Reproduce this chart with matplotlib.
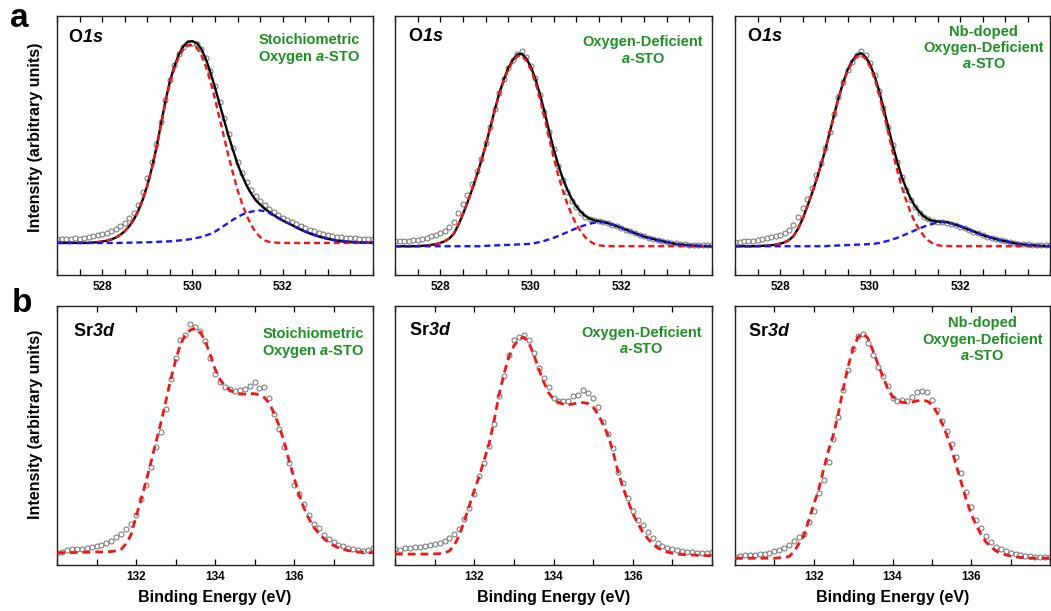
import numpy as np
import matplotlib
matplotlib.use("Agg")
import matplotlib.pyplot as plt
from matplotlib.ticker import MultipleLocator, FixedLocator

plt.rcParams['font.family'] = ['Liberation Sans', 'DejaVu Sans']
plt.rcParams['font.weight'] = 'bold'
plt.rcParams['axes.labelweight'] = 'bold'
plt.rcParams['mathtext.fontset'] = 'custom'
plt.rcParams['mathtext.rm'] = 'Liberation Sans:bold'
plt.rcParams['mathtext.bf'] = 'Liberation Sans:bold'
plt.rcParams['mathtext.it'] = 'Liberation Sans:italic:bold'
try:
    plt.rcParams['mathtext.bfit'] = 'Liberation Sans:italic:bold'
except KeyError:
    pass

# ---- data (normalised intensity) ----
# O 1s, measured every 0.1 eV from 527.0 to 534.0
o1s_energy = np.round(np.arange(527.0, 534.05, 0.1), 1)

o1s_data_stoich = [
    0.018, 0.02, 0.019, 0.02, 0.022, 0.021, 0.024, 0.028, 0.033, 0.037,
    0.045, 0.05, 0.058, 0.068, 0.082, 0.1, 0.122, 0.148, 0.19, 0.25,
    0.32, 0.4, 0.49, 0.6, 0.71, 0.81, 0.88, 0.935, 0.97, 0.985,
    0.99, 0.985, 0.96, 0.915, 0.85, 0.78, 0.7, 0.62, 0.54, 0.47,
    0.4, 0.345, 0.3, 0.262, 0.232, 0.208, 0.188, 0.17, 0.153, 0.138,
    0.126, 0.114, 0.103, 0.093, 0.084, 0.075, 0.066, 0.058, 0.051, 0.045,
    0.039, 0.034, 0.03, 0.027, 0.025, 0.023, 0.022, 0.021, 0.02, 0.02,
    0.019]
o1s_lat_stoich = [
    0, 0, 0, 0, 0, 0, 0, 0, 0.002, 0.004,
    0.007, 0.011, 0.017, 0.026, 0.04, 0.057, 0.082, 0.113, 0.158, 0.212,
    0.282, 0.366, 0.465, 0.579, 0.693, 0.792, 0.865, 0.923, 0.961, 0.981,
    0.98, 0.965, 0.93, 0.873, 0.8, 0.714, 0.62, 0.525, 0.43, 0.345,
    0.262, 0.195, 0.136, 0.09, 0.053, 0.029, 0.013, 0.005, 0.002, 0.001,
    0, 0, 0, 0, 0, 0, 0, 0, 0, 0,
    0, 0, 0, 0, 0, 0, 0, 0, 0, 0,
    0]
o1s_vac_stoich = [
    0, 0, 0, 0, 0, 0, 0, 0, 0, 0,
    0, 0, 0, 0, 0, 0.001, 0.001, 0.002, 0.002, 0.003,
    0.003, 0.004, 0.005, 0.006, 0.007, 0.008, 0.01, 0.012, 0.014, 0.017,
    0.02, 0.025, 0.03, 0.037, 0.045, 0.056, 0.07, 0.085, 0.1, 0.115,
    0.128, 0.14, 0.149, 0.155, 0.159, 0.161, 0.157, 0.148, 0.136, 0.123,
    0.111, 0.1, 0.089, 0.077, 0.066, 0.056, 0.047, 0.039, 0.032, 0.026,
    0.02, 0.015, 0.011, 0.008, 0.006, 0.004, 0.003, 0.002, 0.001, 0.001,
    0]

o1s_data_def = [
    0.026, 0.025, 0.027, 0.027, 0.03, 0.034, 0.038, 0.044, 0.051, 0.059,
    0.068, 0.08, 0.097, 0.125, 0.17, 0.215, 0.265, 0.32, 0.385, 0.45,
    0.53, 0.615, 0.705, 0.79, 0.86, 0.915, 0.96, 0.99, 1.005, 0.975,
    0.93, 0.865, 0.78, 0.69, 0.59, 0.5, 0.415, 0.34, 0.28, 0.235,
    0.2, 0.172, 0.152, 0.14, 0.133, 0.128, 0.124, 0.118, 0.11, 0.102,
    0.094, 0.085, 0.077, 0.068, 0.06, 0.052, 0.045, 0.038, 0.032, 0.027,
    0.022, 0.018, 0.015, 0.012, 0.01, 0.008, 0.007, 0.006, 0.005, 0.005,
    0.004]
o1s_lat_def = [
    0, 0, 0, 0, 0, 0.001, 0.002, 0.004, 0.007, 0.011,
    0.017, 0.026, 0.04, 0.065, 0.11, 0.165, 0.225, 0.29, 0.36, 0.435,
    0.515, 0.605, 0.695, 0.78, 0.85, 0.91, 0.95, 0.978, 0.98, 0.955,
    0.91, 0.845, 0.76, 0.665, 0.56, 0.46, 0.37, 0.29, 0.222, 0.163,
    0.115, 0.077, 0.047, 0.026, 0.012, 0.005, 0.002, 0.001, 0, 0,
    0, 0, 0, 0, 0, 0, 0, 0, 0, 0,
    0, 0, 0, 0, 0, 0, 0, 0, 0, 0,
    0]
o1s_vac_def = [
    0, 0, 0, 0, 0, 0, 0, 0, 0, 0,
    0, 0, 0, 0, 0, 0, 0, 0, 0, 0,
    0.002, 0.003, 0.004, 0.005, 0.006, 0.007, 0.008, 0.009, 0.01, 0.011,
    0.013, 0.017, 0.022, 0.028, 0.035, 0.043, 0.052, 0.062, 0.072, 0.082,
    0.092, 0.101, 0.109, 0.116, 0.121, 0.124, 0.123, 0.118, 0.111, 0.103,
    0.094, 0.085, 0.076, 0.067, 0.058, 0.05, 0.043, 0.037, 0.031, 0.026,
    0.021, 0.016, 0.012, 0.009, 0.007, 0.005, 0.003, 0.002, 0.001, 0.001,
    0]

o1s_data_nb = [
    0.022, 0.024, 0.025, 0.026, 0.028, 0.031, 0.035, 0.04, 0.046, 0.053,
    0.06, 0.07, 0.085, 0.11, 0.15, 0.195, 0.245, 0.3, 0.365, 0.43,
    0.505, 0.59, 0.68, 0.77, 0.845, 0.905, 0.95, 0.985, 1.005, 0.985,
    0.945, 0.88, 0.8, 0.71, 0.615, 0.52, 0.435, 0.355, 0.29, 0.24,
    0.2, 0.17, 0.15, 0.138, 0.132, 0.127, 0.125, 0.12, 0.116, 0.108,
    0.1, 0.092, 0.084, 0.075, 0.067, 0.058, 0.05, 0.043, 0.037, 0.031,
    0.026, 0.021, 0.017, 0.014, 0.011, 0.009, 0.007, 0.006, 0.005, 0.004,
    0.004]
o1s_lat_nb = [
    0, 0, 0, 0, 0, 0.001, 0.002, 0.003, 0.005, 0.008,
    0.013, 0.02, 0.032, 0.052, 0.09, 0.14, 0.2, 0.265, 0.335, 0.41,
    0.49, 0.58, 0.67, 0.76, 0.835, 0.9, 0.945, 0.975, 0.985, 0.965,
    0.925, 0.865, 0.785, 0.69, 0.59, 0.49, 0.395, 0.31, 0.238, 0.175,
    0.124, 0.084, 0.052, 0.029, 0.014, 0.006, 0.002, 0.001, 0, 0,
    0, 0, 0, 0, 0, 0, 0, 0, 0, 0,
    0, 0, 0, 0, 0, 0, 0, 0, 0, 0,
    0]
o1s_vac_nb = [
    0, 0, 0, 0, 0, 0, 0, 0, 0, 0,
    0, 0, 0, 0, 0, 0, 0, 0, 0, 0,
    0, 0.002, 0.003, 0.004, 0.005, 0.006, 0.007, 0.008, 0.009, 0.01,
    0.011, 0.013, 0.017, 0.022, 0.028, 0.035, 0.043, 0.052, 0.062, 0.072,
    0.082, 0.092, 0.101, 0.109, 0.116, 0.121, 0.124, 0.123, 0.118, 0.111,
    0.103, 0.094, 0.085, 0.076, 0.067, 0.058, 0.05, 0.043, 0.037, 0.031,
    0.026, 0.021, 0.016, 0.012, 0.009, 0.007, 0.005, 0.003, 0.002, 0.001,
    0.001]

# Sr 3d, measured every 0.125 eV from 130 to 138
sr3d_energy = np.arange(130.0, 138.01, 0.125)

sr3d_data_stoich = [
    0.0, 0.004, 0.012, 0.015, 0.015, 0.018, 0.022, 0.026,
    0.028, 0.033, 0.042, 0.054, 0.068, 0.082, 0.105, 0.13,
    0.168, 0.24, 0.3, 0.38, 0.47, 0.54, 0.64, 0.775,
    0.87, 0.95, 0.97, 1.018, 1.005, 0.99, 0.945, 0.87,
    0.795, 0.76, 0.74, 0.728, 0.723, 0.724, 0.73, 0.745,
    0.762, 0.735, 0.74, 0.69, 0.62, 0.55, 0.47, 0.4,
    0.3, 0.26, 0.215, 0.17, 0.13, 0.108, 0.078, 0.06,
    0.046, 0.036, 0.03, 0.022, 0.016, 0.013, 0.008, 0.012,
    0.019]
sr3d_fit_stoich = [
    0.0, 0.0, 0.0, 0.0, 0.001, 0.001, 0.002, 0.002,
    0.003, 0.003, 0.004, 0.005, 0.008, 0.015, 0.04, 0.08,
    0.16, 0.235, 0.315, 0.4, 0.49, 0.575, 0.67, 0.77,
    0.855, 0.93, 0.97, 0.993, 1.0, 0.985, 0.945, 0.885,
    0.82, 0.772, 0.743, 0.725, 0.713, 0.707, 0.707, 0.709,
    0.709, 0.703, 0.692, 0.665, 0.62, 0.565, 0.495, 0.41,
    0.335, 0.26, 0.2, 0.152, 0.113, 0.087, 0.064, 0.046,
    0.032, 0.022, 0.015, 0.009, 0.005, 0.003, 0.001, 0.0,
    0.0]

sr3d_data_def = [
    0.026, 0.022, 0.029, 0.031, 0.034, 0.037, 0.041, 0.044,
    0.048, 0.054, 0.061, 0.075, 0.095, 0.12, 0.165, 0.215,
    0.28, 0.36, 0.42, 0.5, 0.6, 0.73, 0.82, 0.92,
    0.985, 1.0, 1.008, 0.985, 0.925, 0.86, 0.81, 0.77,
    0.72, 0.708, 0.706, 0.706, 0.73, 0.735, 0.755, 0.742,
    0.72, 0.68, 0.61, 0.555, 0.49, 0.38, 0.33, 0.26,
    0.2, 0.16, 0.135, 0.105, 0.075, 0.055, 0.042, 0.032,
    0.026, 0.023, 0.019, 0.015, 0.012, 0.009, 0.008, 0.006,
    0.011]
sr3d_fit_def = [
    0.003, 0.003, 0.003, 0.003, 0.003, 0.003, 0.003, 0.003,
    0.004, 0.005, 0.008, 0.018, 0.045, 0.09, 0.155, 0.225,
    0.295, 0.36, 0.435, 0.51, 0.615, 0.735, 0.83, 0.91,
    0.96, 0.99, 1.0, 0.975, 0.92, 0.855, 0.795, 0.745,
    0.715, 0.7, 0.692, 0.69, 0.693, 0.699, 0.699, 0.695,
    0.678, 0.645, 0.6, 0.55, 0.475, 0.385, 0.31, 0.25,
    0.19, 0.145, 0.105, 0.075, 0.05, 0.032, 0.02, 0.012,
    0.007, 0.003, 0.001, 0.0, -0.001, -0.002, -0.003, -0.004,
    -0.005]

sr3d_data_nb = [
    0.007, 0.012, 0.015, 0.013, 0.015, 0.018, 0.021, 0.025,
    0.031, 0.037, 0.047, 0.06, 0.077, 0.095, 0.11, 0.16,
    0.21, 0.29, 0.35, 0.43, 0.53, 0.63, 0.75, 0.84,
    0.93, 0.99, 1.0, 0.96, 0.905, 0.85, 0.81, 0.765,
    0.715, 0.7, 0.703, 0.7, 0.72, 0.738, 0.745, 0.742,
    0.705, 0.66, 0.613, 0.565, 0.51, 0.45, 0.38, 0.295,
    0.23, 0.17, 0.135, 0.097, 0.072, 0.05, 0.04, 0.033,
    0.025, 0.019, 0.016, 0.012, 0.008, 0.007, 0.007, 0.007,
    0.007]
sr3d_fit_nb = [
    0, 0, 0, 0, 0, 0, 0, 0,
    0.0, 0.002, 0.004, 0.008, 0.03, 0.065, 0.1, 0.17,
    0.24, 0.305, 0.395, 0.48, 0.55, 0.645, 0.755, 0.855,
    0.933, 0.985, 1.0, 0.98, 0.926, 0.868, 0.81, 0.758,
    0.72, 0.702, 0.694, 0.692, 0.695, 0.701, 0.703, 0.7,
    0.684, 0.65, 0.605, 0.55, 0.485, 0.41, 0.335, 0.26,
    0.196, 0.148, 0.105, 0.072, 0.05, 0.033, 0.022, 0.015,
    0.01, 0.006, 0.004, 0.002, 0, 0, 0, 0,
    0]

o1s_ticks = [528, 530, 532]
sr3d_ticks = [132, 134, 136]

sample_labels = [
    "Stoichiometric\nOxygen $\\mathbfit{a}$-STO",
    "Oxygen-Deficient\n$\\mathbfit{a}$-STO",
    "Nb-doped\nOxygen-Deficient\n$\\mathbfit{a}$-STO",
]
o1s_sets = [
    (o1s_data_stoich, o1s_lat_stoich, o1s_vac_stoich),
    (o1s_data_def, o1s_lat_def, o1s_vac_def),
    (o1s_data_nb, o1s_lat_nb, o1s_vac_nb),
]
sr3d_sets = [
    (sr3d_data_stoich, sr3d_fit_stoich),
    (sr3d_data_def, sr3d_fit_def),
    (sr3d_data_nb, sr3d_fit_nb),
]

# ---- layout ----
W, H = 1051, 611
fig = plt.figure(figsize=(W / 100, H / 100), dpi=100)

cols = [(57, 373), (395, 712), (735, 1050)]
top_row = (16, 275)
bot_row = (306, 565)
o1s_ylim = [(-0.159, 1.125), (-0.148, 1.185), (-0.148, 1.185)]
sr_ylim = [(-0.055, 1.10), (-0.047, 1.143), (-0.03, 1.123)]
o1s_lab_pos = [(0.797, 0.934), (0.782, 0.925), (0.79, 0.965)]
sr_lab_pos = [(0.81, 0.919), (0.778, 0.922), (0.785, 0.96)]
o1s_tag_pos = [(0.035, 0.95), (0.041, 0.953), (0.038, 0.953)]
sr_tag_pos = [(0.05, 0.933), (0.044, 0.938), (0.041, 0.933)]

green = '#1f8f24'
red = '#f01616'
blue = '#1a1ae6'


def make_axes(col, row):
    x0, x1 = col
    y0, y1 = row
    ax = fig.add_axes([x0 / W, 1 - y1 / H, (x1 - x0) / W, (y1 - y0) / H])
    for s in ax.spines.values():
        s.set_linewidth(1.0)
        s.set_color('#222222')
    ax.tick_params(which='both', direction='in', top=True, bottom=True,
                   left=False, right=False, labelleft=False,
                   length=4, width=0.9, labelsize=8.5, pad=4)
    return ax


for i in range(3):
    # top row: O 1s
    ax = make_axes(cols[i], top_row)
    data, lat, vac = o1s_sets[i]
    total = np.array(lat) + np.array(vac)
    ax.plot(o1s_energy, data, 'o', ms=3.6, mfc='white', mec='#707070', mew=0.7, zorder=2)
    ax.plot(o1s_energy, total, '-', color='black', lw=1.7, zorder=3)
    ax.plot(o1s_energy, lat, color=red, lw=1.7, ls=(0, (2.6, 1.6)), zorder=4)
    ax.plot(o1s_energy, vac, color=blue, lw=1.7, ls=(0, (2.6, 1.6)), zorder=4)
    ax.set_xlim(527, 534)
    ax.set_ylim(*o1s_ylim[i])
    ax.xaxis.set_major_locator(FixedLocator(o1s_ticks))
    ax.xaxis.set_minor_locator(MultipleLocator(0.5))
    ax.text(*o1s_tag_pos[i], "O$\\mathbfit{1s}$", transform=ax.transAxes,
            fontsize=13, ha='left', va='top')
    ax.text(*o1s_lab_pos[i], sample_labels[i], transform=ax.transAxes,
            fontsize=10.5, color=green, ha='center', va='top', linespacing=1.2)
    if i == 0:
        ax.set_ylabel('Intensity (arbitrary units)', fontsize=11.5)
        ax.yaxis.set_label_coords(-0.043, 0.53)

    # bottom row: Sr 3d
    ax = make_axes(cols[i], bot_row)
    data, fit = sr3d_sets[i]
    ax.plot(sr3d_energy, data, 'o', ms=3.6, mfc='white', mec='#707070', mew=0.7, zorder=2)
    ax.plot(sr3d_energy, fit, color=red, lw=2.0, ls=(0, (2.8, 1.8)), zorder=3)
    ax.set_xlim(130, 138)
    ax.set_ylim(*sr_ylim[i])
    ax.xaxis.set_major_locator(FixedLocator(sr3d_ticks))
    ax.xaxis.set_minor_locator(MultipleLocator(1))
    ax.text(*sr_tag_pos[i], "Sr$\\mathbfit{3d}$", transform=ax.transAxes,
            fontsize=13, ha='left', va='top')
    ax.text(*sr_lab_pos[i], sample_labels[i], transform=ax.transAxes,
            fontsize=10.5, color=green, ha='center', va='top', linespacing=1.2)
    ax.set_xlabel('Binding Energy (eV)', fontsize=11.5)
    ax.xaxis.set_label_coords(0.5, -0.095)
    if i == 0:
        ax.set_ylabel('Intensity (arbitrary units)', fontsize=11.5)
        ax.yaxis.set_label_coords(-0.043, 0.544)

fig.text(10 / W, 1 - 27 / H, 'a', fontsize=24, ha='left', va='baseline')
fig.text(12 / W, 1 - 312 / H, 'b', fontsize=24, ha='left', va='baseline')

fig.savefig('out.png', dpi=100)
